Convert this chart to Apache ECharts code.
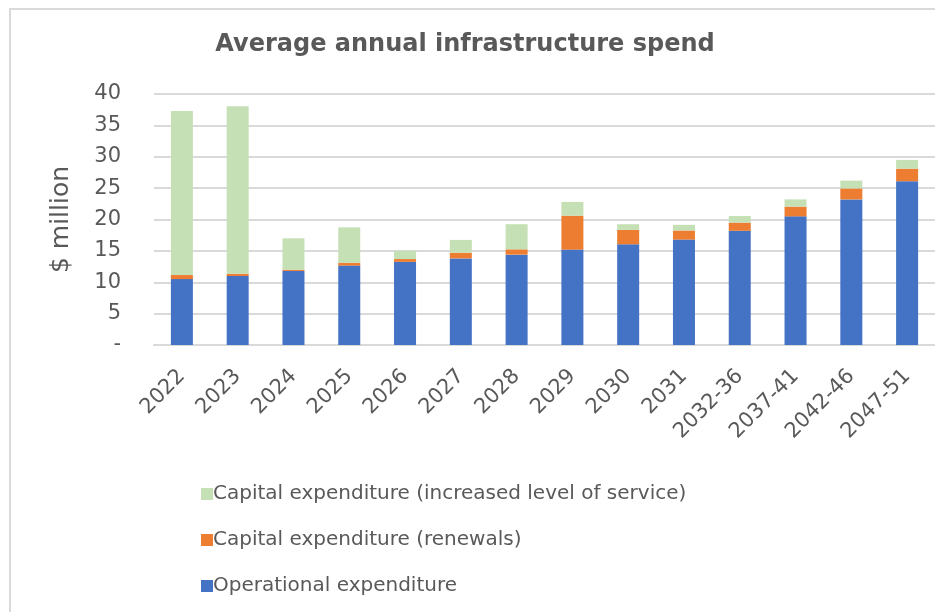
<!DOCTYPE html>
<html>
<head>
<meta charset="utf-8">
<script src="https://cdn.jsdelivr.net/npm/echarts@6/dist/echarts.min.js"></script>
<style>
html,body{margin:0;padding:0;background:#fff;}
#chart{width:935px;height:612px;}
</style>
</head>
<body>
<div id="chart"></div>
<script>
const categories = ['2022','2023','2024','2025','2026','2027','2028','2029','2030','2031','2032-36','2037-41','2042-46','2047-51'];
const operational = [10.5, 11.0, 11.8, 12.65, 13.25, 13.8, 14.4, 15.2, 16.05, 16.8, 18.2, 20.5, 23.2, 26.1];
const renewals    = [0.65, 0.35, 0.2, 0.45, 0.45, 0.9, 0.85, 5.4, 2.3, 1.45, 1.3, 1.55, 1.75, 2.0];
const increasedLOS= [26.15, 26.7, 5.0, 5.65, 1.3, 2.05, 4.0, 2.2, 0.9, 0.9, 1.05, 1.15, 1.25, 1.4];
const yTicks = {min:0, max:40, interval:5};
const seriesNames = ['Operational expenditure','Capital expenditure (renewals)','Capital expenditure (increased level of service)'];
const colors = ['#4472C4','#ED7D31','#C5E0B4'];

const FONT = 'DejaVu Sans';
const TXT = '#595959';
const chart = echarts.init(document.getElementById('chart'));
const dataSets = [operational, renewals, increasedLOS];
chart.setOption({
  animation:false,
  textStyle:{fontFamily:FONT},
  title:{
    text:'Average annual infrastructure spend',
    left:460, textAlign:'center', top:28,
    textStyle:{fontFamily:FONT, fontSize:24, fontWeight:'bold', color:TXT}
  },
  graphic:[{type:'rect', shape:{x:10,y:9,width:940,height:620}, style:{fill:'none', stroke:'#d9d9d9', lineWidth:2}, silent:true}],
  legend:{
    orient:'vertical', left:196, top:479,
    itemWidth:12, itemHeight:12, itemGap:26,
    icon:'rect',
    data:[seriesNames[2], seriesNames[1], seriesNames[0]],
    textStyle:{fontFamily:FONT, fontSize:20, color:TXT, padding:[0,0,0,-5]}
  },
  grid:{left:154, top:94, width:787, height:251},
  xAxis:{
    type:'category', data:categories,
    axisTick:{show:false},
    axisLine:{lineStyle:{color:'#d9d9d9', width:2}},
    axisLabel:{rotate:45, fontFamily:FONT, fontSize:21, color:TXT, margin:28, interval:0}
  },
  yAxis:{
    type:'value', min:yTicks.min, max:yTicks.max, interval:yTicks.interval,
    name:'$ million', nameLocation:'middle', nameGap:80, nameRotate:90,
    nameTextStyle:{fontFamily:FONT, fontSize:25, color:TXT},
    axisLine:{show:false}, axisTick:{show:false},
    splitLine:{lineStyle:{color:'#d9d9d9', width:2}},
    axisLabel:{fontFamily:FONT, fontSize:21, color:TXT, margin:33,
      formatter:v=> v===0 ? '-' : String(v)}
  },
  series: seriesNames.map((n,i)=>({
    name:n, type:'bar', stack:'total', barWidth:22,
    data:dataSets[i],
    itemStyle:{color:colors[i]}
  }))
});
</script>
</body>
</html>
